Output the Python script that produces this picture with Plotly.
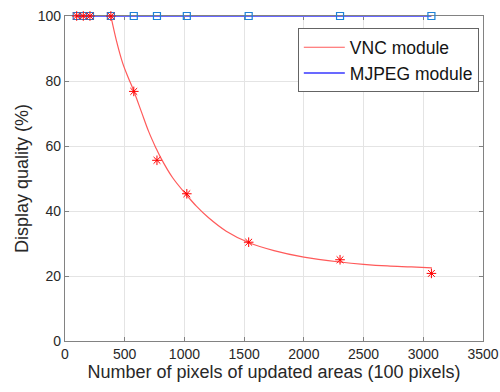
import plotly.graph_objects as go

# measured data points
x_pts = [98, 153, 209, 384, 576, 770, 1020, 1538, 2303, 3068]
vnc_pts = [100, 100, 100, 100, 76.8, 55.6, 45.3, 30.4, 25.0, 20.8]
mjpeg_pts = [100, 100, 100, 100, 100, 100, 100, 100, 100, 100]

# fitted curve
vnc_fit_x = [384, 430, 483, 530, 572, 640, 700, 760, 800, 900, 1016, 1100, 1200, 1350, 1538, 1750, 2000, 2303, 2500, 2700, 2900, 3072]
vnc_fit_y = [100, 92.5, 85.5, 81, 77.3, 70.5, 64.5, 59.5, 56.5, 50.3, 45.0, 41.5, 38.0, 33.8, 30.3, 27.8, 25.8, 24.3, 23.6, 23.1, 22.8, 22.5]

mjpeg_line_x = [98, 3068]
mjpeg_line_y = [100, 100]

font = "Liberation Sans, Arial, sans-serif"

fig = go.Figure()
fig.add_trace(go.Scatter(x=vnc_fit_x, y=vnc_fit_y, mode="lines", line_shape="spline",
                         line=dict(color="rgb(255,90,90)", width=1.2), name="VNC module"))
fig.add_trace(go.Scatter(x=mjpeg_line_x, y=mjpeg_line_y, mode="lines",
                         line=dict(color="rgb(105,105,255)", width=2), name="MJPEG module"))
fig.add_trace(go.Scatter(x=x_pts, y=mjpeg_pts, mode="markers", showlegend=False, cliponaxis=False,
                         marker=dict(symbol="square-open", size=7, color="rgb(30,130,215)",
                                     line=dict(color="rgb(30,130,215)", width=1.2))))
fig.add_trace(go.Scatter(x=x_pts, y=vnc_pts, mode="markers", showlegend=False, cliponaxis=False,
                         marker=dict(symbol="asterisk-open", size=8, color="rgb(255,0,0)",
                                     line=dict(color="rgb(255,0,0)", width=1))))

axis_common = dict(showline=True, linecolor="rgb(130,130,130)", linewidth=1.2, mirror="ticks",
                   ticks="inside", ticklen=4, tickcolor="rgb(130,130,130)",
                   showgrid=True, gridcolor="rgb(228,228,228)", gridwidth=1,
                   zeroline=False, automargin=False, layer="below traces",
                   tickfont=dict(family=font, size=14, color="rgb(40,40,40)"))

fig.update_layout(
    width=500, height=392,
    margin=dict(l=65, r=17, t=16, b=51),
    paper_bgcolor="white", plot_bgcolor="white",
    font=dict(family=font, size=14, color="rgb(40,40,40)"),
    xaxis=dict(range=[0, 3500], dtick=500, tickformat="d",
               title=dict(text="Number of pixels of updated areas (100 pixels)",
                          font=dict(family=font, size=18, color="rgb(40,40,40)"), standoff=2),
               **axis_common),
    yaxis=dict(range=[0, 100], dtick=20,
               title=dict(text="Display quality (%)",
                          font=dict(family=font, size=18, color="rgb(40,40,40)"), standoff=4),
               **axis_common),
    legend=dict(x=0.99, xanchor="right", y=0.962, yanchor="top",
                bgcolor="white", bordercolor="rgb(100,100,100)", borderwidth=1,
                font=dict(family=font, size=17.5, color="rgb(20,20,20)"),
                itemwidth=41, tracegroupgap=0),
)

fig.write_html("out.html", config={"displayModeBar": False},
               post_script="document.body.style.margin='0';")
